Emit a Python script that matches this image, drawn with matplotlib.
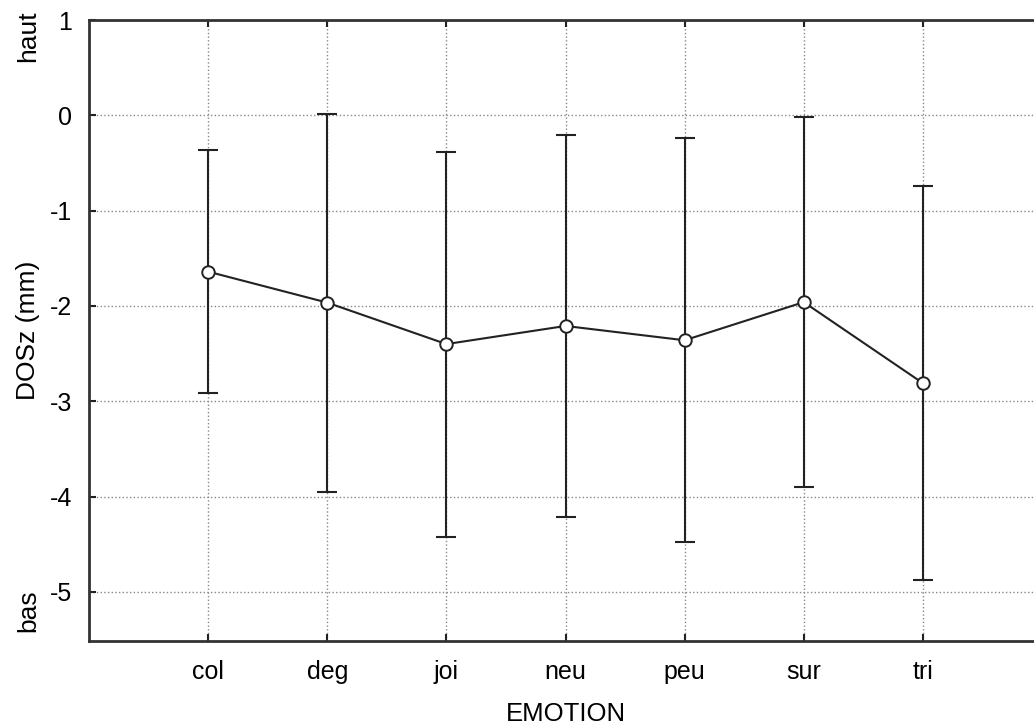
import matplotlib
matplotlib.use("Agg")
import matplotlib.pyplot as plt
import numpy as np

categories = ["col", "deg", "joi", "neu", "peu", "sur", "tri"]
means = [-1.64, -1.965, -2.40, -2.21, -2.36, -1.96, -2.81]
upper = [-0.365, 0.01, -0.39, -0.21, -0.235, -0.02, -0.745]
lower = [-2.915, -3.955, -4.42, -4.21, -4.48, -3.90, -4.88]
yticks = [1, 0, -1, -2, -3, -4, -5]

plt.rcParams['font.family'] = ['Liberation Sans', 'DejaVu Sans']

fig = plt.figure(figsize=(10.34, 7.28), dpi=100)
ax = fig.add_axes([89/1034, 87/728, (1042-89)/1034, (641-20)/728])

x = np.arange(1, len(categories) + 1)
m = np.array(means)
err = [m - np.array(lower), np.array(upper) - m]

ax.errorbar(x, m, yerr=err, fmt='none', ecolor='#222222', elinewidth=1.5,
            capsize=7, capthick=1.5, zorder=3)
ax.plot(x, m, color='#222222', lw=1.5, marker='o', markersize=9,
        markerfacecolor='white', markeredgecolor='#222222', markeredgewidth=1.4, zorder=4)

ax.set_xlim(0, 8)
ax.set_ylim(-5.515, 1)
ax.set_xticks(x)
ax.set_xticklabels(categories)
ax.set_yticks(yticks)
ax.set_yticklabels([str(t) for t in yticks])
ax.grid(True, linestyle=':', color='#888888', linewidth=1.0)
ax.set_axisbelow(True)
ax.tick_params(direction='in', length=5, width=1.5, labelsize=18, top=True, right=False,
               color='#222222')
ax.tick_params(axis='x', pad=14)
ax.tick_params(axis='y', pad=12)
for s in ['left', 'bottom', 'top']:
    ax.spines[s].set_linewidth(2)
    ax.spines[s].set_color('#333333')
ax.spines['right'].set_visible(False)

fig.text(566/1034, 1 - 714/728, "EMOTION", fontsize=18.5, ha='center', va='center')
fig.text(28/1034, 1 - 330/728, "DOSz (mm)", rotation=90, fontsize=19, ha='center', va='center')
fig.text(28/1034, 1 - 36/728, "haut", rotation=90, fontsize=19, ha='center', va='center')
fig.text(28/1034, 1 - 611/728, "bas", rotation=90, fontsize=19, ha='center', va='center')

fig.savefig("out.png", dpi=100)
